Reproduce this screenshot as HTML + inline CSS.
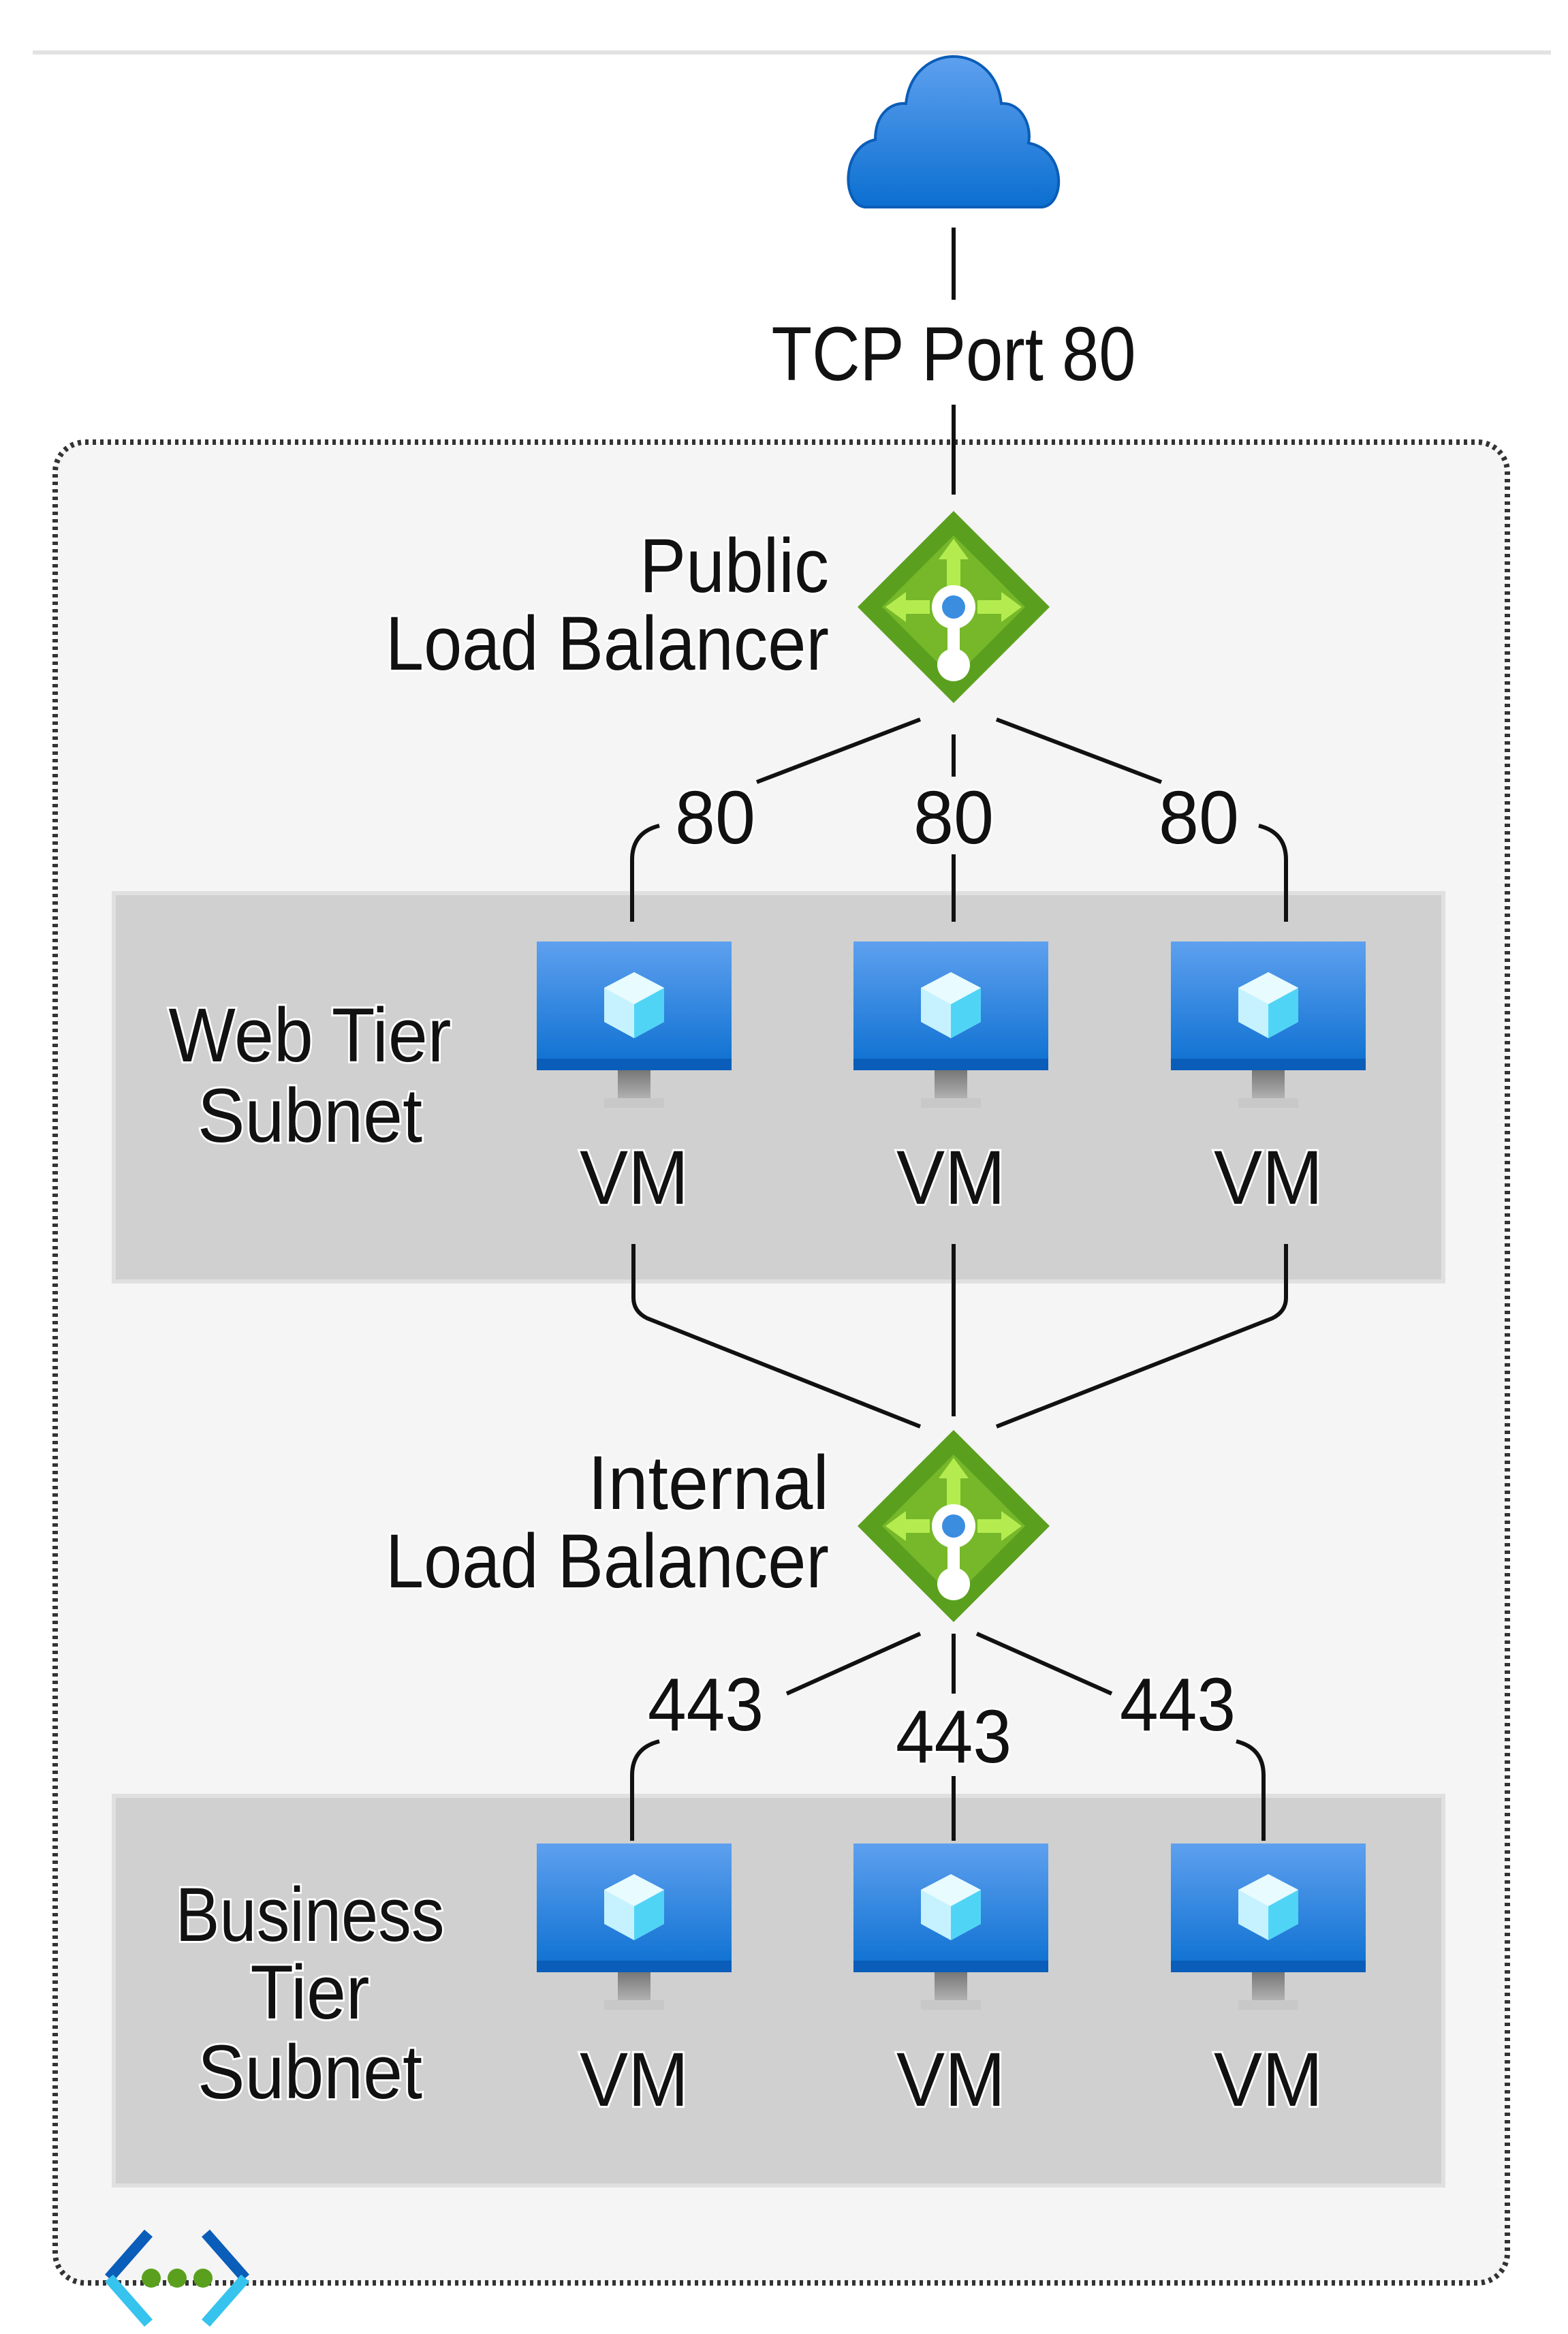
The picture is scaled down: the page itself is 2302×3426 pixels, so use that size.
<!DOCTYPE html>
<html><head><meta charset="utf-8"><style>
html,body{margin:0;padding:0;background:#fff;}
svg{display:block;}
text{font-family:"Liberation Sans",sans-serif;fill:#111;stroke:#fff;stroke-width:6;paint-order:stroke;}
</style></head><body>
<svg width="2302" height="3426" viewBox="0 0 2302 3426" xmlns="http://www.w3.org/2000/svg">
<defs>
<linearGradient id="blue" x1="0" y1="0" x2="0" y2="1"><stop offset="0" stop-color="#5ea0ef"/><stop offset="1" stop-color="#0b6fd0"/></linearGradient>
<linearGradient id="stand" x1="0" y1="0" x2="0" y2="1"><stop offset="0" stop-color="#777"/><stop offset="1" stop-color="#bbb"/></linearGradient>
<g id="vm">
<rect x="-143" y="0" width="286" height="189" fill="url(#blue)"/>
<rect x="-143" y="172" width="286" height="17" fill="#0a5db8"/>
<rect x="-24" y="189" width="48" height="48" fill="url(#stand)"/>
<rect x="-44" y="230" width="88" height="14" fill="#c8c8c8"/>
<polygon points="0,45 44,68 44,118 0,142 -44,118 -44,68" fill="#c6f2ff"/>
<polygon points="0,92 44,68 44,118 0,142" fill="#50d4f5"/>
<polygon points="0,45 44,68 0,92 -44,68" fill="#e8fbff"/>
</g>
<g id="lb">
<polygon points="0,-141 141,0 0,141 -141,0" fill="#5aa01e"/>
<polygon points="0,-105 105,0 0,105 -105,0" fill="#76b82a"/>
<path d="M0,-100 L22,-70 L10,-70 L10,-30 L-10,-30 L-10,-70 L-22,-70Z M-100,0 L-70,-22 L-70,-10 L-35,-10 L-35,10 L-70,10 L-70,22Z M100,0 L70,-22 L70,-10 L35,-10 L35,10 L70,10 L70,22Z" fill="#b4ec50"/>
<circle cx="0" cy="0" r="32" fill="#fff"/>
<circle cx="0" cy="0" r="17" fill="#3b8de0"/>
<rect x="-9" y="20" width="18" height="70" fill="#fff"/>
<circle cx="0" cy="85" r="24" fill="#fff"/>
</g>
</defs>

<line x1="48" y1="77" x2="2277" y2="77" stroke="#e2e2e2" stroke-width="6"/>

<!-- cloud -->
<path d="M1270,304 C1235,300 1235,215 1285,205 C1285,165 1310,150 1330,152 C1340,60 1460,60 1470,152 C1500,150 1515,185 1510,210 C1565,220 1565,300 1530,304 Z" fill="url(#blue)" stroke="#0a5db8" stroke-width="4"/>

<line x1="1400" y1="334" x2="1400" y2="440" stroke="#111" stroke-width="6"/>
<text x="1400" y="558" text-anchor="middle" font-size="112" textLength="535" lengthAdjust="spacingAndGlyphs">TCP Port 80</text>

<!-- container -->
<rect x="81" y="649" width="2132" height="2702" rx="44" fill="#f5f5f5" stroke="#333" stroke-width="8" stroke-dasharray="5,6"/>
<line x1="1400" y1="594" x2="1400" y2="726" stroke="#111" stroke-width="6"/>

<!-- subnets -->
<rect x="167" y="1311" width="1952" height="570" fill="#d0d0d0" stroke="#e0e0e0" stroke-width="6"/>
<rect x="167" y="2636" width="1952" height="572" fill="#d0d0d0" stroke="#e0e0e0" stroke-width="6"/>

<!-- connectors -->
<g stroke="#111" stroke-width="6" fill="none" stroke-linejoin="round">
<line x1="1351" y1="1056" x2="1111" y2="1148"/>
<path d="M968,1212 Q928,1222 928,1262 L928,1353"/>
<line x1="1400" y1="1078" x2="1400" y2="1140"/>
<line x1="1400" y1="1254" x2="1400" y2="1353"/>
<line x1="1463" y1="1056" x2="1705" y2="1148"/>
<path d="M1848,1212 Q1888,1222 1888,1262 L1888,1353"/>

<path d="M930,1826 L930,1905 Q930,1925 950,1935 L1351,2094"/>
<line x1="1400" y1="1826" x2="1400" y2="2079"/>
<path d="M1888,1826 L1888,1905 Q1888,1925 1868,1935 L1463,2094"/>

<line x1="1351" y1="2398" x2="1155" y2="2486"/>
<path d="M968,2556 Q928,2566 928,2606 L928,2702"/>
<line x1="1400" y1="2398" x2="1400" y2="2486"/>
<line x1="1400" y1="2607" x2="1400" y2="2702"/>
<line x1="1434" y1="2398" x2="1632" y2="2486"/>
<path d="M1815,2556 Q1855,2566 1855,2606 L1855,2702"/>
</g>

<g font-size="110">
<text x="1050" y="1238" text-anchor="middle" textLength="118" lengthAdjust="spacingAndGlyphs">80</text>
<text x="1400" y="1238" text-anchor="middle" textLength="118" lengthAdjust="spacingAndGlyphs">80</text>
<text x="1760" y="1238" text-anchor="middle" textLength="118" lengthAdjust="spacingAndGlyphs">80</text>
<text x="1036" y="2540" text-anchor="middle" textLength="170" lengthAdjust="spacingAndGlyphs">443</text>
<text x="1400" y="2587" text-anchor="middle" textLength="170" lengthAdjust="spacingAndGlyphs">443</text>
<text x="1729" y="2540" text-anchor="middle" textLength="170" lengthAdjust="spacingAndGlyphs">443</text>
</g>

<use href="#lb" x="1400" y="891"/>
<use href="#lb" x="1400" y="2240"/>
<g font-size="112" text-anchor="end">
<text x="1217" y="869" textLength="278" lengthAdjust="spacingAndGlyphs">Public</text>
<text x="1217" y="983" textLength="651" lengthAdjust="spacingAndGlyphs">Load Balancer</text>
<text x="1217" y="2215" textLength="354" lengthAdjust="spacingAndGlyphs">Internal</text>
<text x="1217" y="2330" textLength="651" lengthAdjust="spacingAndGlyphs">Load Balancer</text>
</g>

<use href="#vm" x="931" y="1382"/>
<use href="#vm" x="1396" y="1382"/>
<use href="#vm" x="1862" y="1382"/>
<use href="#vm" x="931" y="2706"/>
<use href="#vm" x="1396" y="2706"/>
<use href="#vm" x="1862" y="2706"/>
<g font-size="112" text-anchor="middle">
<text x="931" y="1767" textLength="160" lengthAdjust="spacingAndGlyphs">VM</text>
<text x="1396" y="1767" textLength="160" lengthAdjust="spacingAndGlyphs">VM</text>
<text x="1862" y="1767" textLength="160" lengthAdjust="spacingAndGlyphs">VM</text>
<text x="931" y="3091" textLength="160" lengthAdjust="spacingAndGlyphs">VM</text>
<text x="1396" y="3091" textLength="160" lengthAdjust="spacingAndGlyphs">VM</text>
<text x="1862" y="3091" textLength="160" lengthAdjust="spacingAndGlyphs">VM</text>
<text x="455" y="1558" textLength="415" lengthAdjust="spacingAndGlyphs">Web Tier</text>
<text x="455" y="1676" textLength="330" lengthAdjust="spacingAndGlyphs">Subnet</text>
<text x="455" y="2849" textLength="395" lengthAdjust="spacingAndGlyphs">Business</text>
<text x="455" y="2963" textLength="175" lengthAdjust="spacingAndGlyphs">Tier</text>
<text x="455" y="3080" textLength="330" lengthAdjust="spacingAndGlyphs">Subnet</text>
</g>

<g stroke-width="16" fill="none" stroke-linecap="butt">
<path d="M218,3278 L160,3344" stroke="#0a5db8"/>
<path d="M160,3344 L218,3410" stroke="#36c3ee"/>
<path d="M302,3278 L360,3344" stroke="#0a5db8"/>
<path d="M360,3344 L302,3410" stroke="#36c3ee"/>
</g>
<circle cx="222" cy="3344" r="14" fill="#5aa01e"/>
<circle cx="260" cy="3344" r="14" fill="#5aa01e"/>
<circle cx="298" cy="3344" r="14" fill="#5aa01e"/>
</svg>
</body></html>
